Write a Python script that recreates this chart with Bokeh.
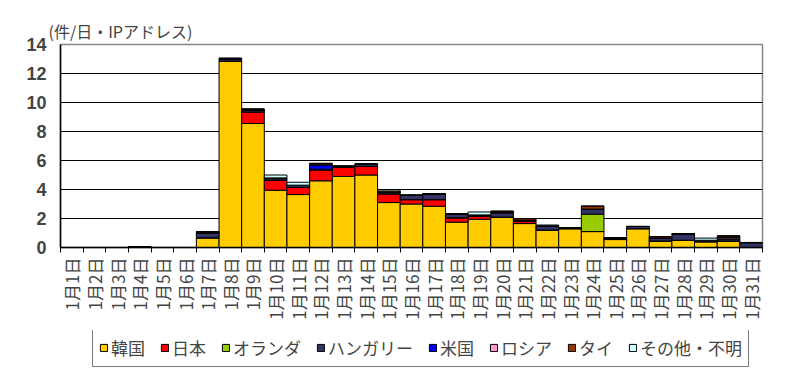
import math
from bokeh.plotting import figure
from bokeh.layouts import column
from bokeh.models import FixedTicker, Legend, LegendItem, ColumnDataSource
from bokeh.embed import file_html
from bokeh.resources import INLINE

days = ["1月1日", "1月2日", "1月3日", "1月4日", "1月5日", "1月6日", "1月7日", "1月8日",
        "1月9日", "1月10日", "1月11日", "1月12日", "1月13日", "1月14日", "1月15日", "1月16日",
        "1月17日", "1月18日", "1月19日", "1月20日", "1月21日", "1月22日", "1月23日", "1月24日",
        "1月25日", "1月26日", "1月27日", "1月28日", "1月29日", "1月30日", "1月31日"]

korea = [0, 0, 0, 0, 0, 0, 0.67, 12.85, 8.55, 3.95, 3.65, 4.6, 4.9, 5.0, 3.1, 3.0,
         2.85, 1.75, 1.95, 2.1, 1.65, 1.2, 1.3, 1.1, 0.55, 1.3, 0.45, 0.5, 0.4, 0.45, 0]
japan = [0, 0, 0, 0, 0, 0, 0, 0, 0.8, 0.7, 0.5, 0.75, 0.65, 0.6, 0.6, 0.3,
         0.45, 0.3, 0.2, 0, 0.15, 0, 0, 0, 0, 0, 0, 0, 0, 0, 0]
netherlands = [0, 0, 0, 0, 0, 0, 0, 0, 0, 0, 0, 0, 0, 0, 0, 0,
               0, 0, 0, 0, 0, 0, 0, 1.2, 0, 0, 0, 0, 0, 0, 0]
hungary = [0, 0, 0, 0.05, 0, 0, 0.33, 0.15, 0.1, 0.15, 0.15, 0.05, 0.05, 0.15, 0.1, 0.3,
           0.4, 0.25, 0.1, 0.3, 0.1, 0.3, 0.05, 0.35, 0.1, 0.15, 0.2, 0.45, 0.1, 0.15, 0.3]
usa = [0, 0, 0, 0, 0, 0, 0, 0, 0, 0, 0, 0.3, 0, 0, 0, 0,
       0, 0, 0, 0, 0, 0, 0, 0, 0, 0, 0, 0, 0, 0, 0]
russia = [0, 0, 0, 0, 0, 0, 0.05, 0, 0, 0, 0, 0, 0, 0, 0, 0,
          0, 0, 0, 0, 0, 0, 0, 0, 0, 0, 0, 0, 0, 0.1, 0]
thai = [0, 0, 0, 0, 0, 0, 0.05, 0.05, 0.1, 0, 0, 0.1, 0, 0, 0.1, 0,
        0, 0, 0, 0.1, 0.1, 0, 0, 0.2, 0, 0, 0.1, 0, 0, 0.1, 0]
other = [0, 0, 0, 0, 0, 0, 0, 0, 0, 0.2, 0.2, 0, 0, 0, 0.1, 0,
         0, 0, 0.2, 0, 0, 0.05, 0, 0, 0, 0, 0, 0, 0.15, 0, 0.05]

series_names = ["韓国", "日本", "オランダ", "ハンガリー", "米国", "ロシア", "タイ", "その他・不明"]
series_vals = [korea, japan, netherlands, hungary, usa, russia, thai, other]
colors = ["#FFCC00", "#FF0000", "#99CC00", "#333366", "#0000FF", "#FF99CC", "#993300", "#CCFFFF"]
y_ticks = [0, 2, 4, 6, 8, 10, 12, 14]

xs = list(range(1, len(days) + 1))
keys = [f"s{i}" for i in range(len(series_vals))]
data = {"x": xs}
for k, v in zip(keys, series_vals):
    data[k] = v
source = ColumnDataSource(data)

JP = "Noto Sans CJK JP"

p = figure(width=784, height=330, output_backend="svg", toolbar_location=None,
           x_range=(0.5, len(days) + 0.5), y_range=(0, 14),
           min_border_left=60, min_border_right=22, min_border_top=44, min_border_bottom=83)
p.title.text = "(件/日・IPアドレス)"
p.title.text_font = JP
p.title.text_font_size = "16px"
p.title.text_font_style = "normal"
p.title.offset = -12
p.title.standoff = 4

renderers = p.vbar_stack(keys, x="x", width=1.0, source=source, color=colors,
                         line_color="black", line_width=1)

p.outline_line_color = "#888888"
p.outline_line_width = 1.5
p.background_fill_color = "white"
p.border_fill_color = "white"

p.xgrid.grid_line_color = None
p.ygrid.grid_line_color = "black"
p.ygrid.grid_line_width = 1.2
p.ygrid.ticker = FixedTicker(ticks=y_ticks)

p.yaxis.ticker = FixedTicker(ticks=y_ticks)
p.yaxis.major_tick_out = 0
p.yaxis.major_tick_in = 0
p.yaxis.minor_tick_out = 0
p.yaxis.minor_tick_in = 0
p.yaxis.axis_line_color = "black"
p.yaxis.axis_line_width = 1.5
p.yaxis.major_label_text_font = "Liberation Sans"
p.yaxis.major_label_text_font_size = "18px"
p.yaxis.major_label_text_font_style = "bold"
p.yaxis.major_label_standoff = 14

p.xaxis.ticker = FixedTicker(ticks=xs, minor_ticks=[x - 0.5 for x in xs] + [len(xs) + 0.5])
p.xaxis.major_label_overrides = {x: d for x, d in zip(xs, days)}
p.xaxis.major_label_orientation = math.pi / 2
p.xaxis.major_label_text_font = JP
p.xaxis.major_label_text_font_size = "17px"
p.xaxis.major_label_standoff = 5
p.xaxis.major_tick_out = 0
p.xaxis.major_tick_in = 0
p.xaxis.minor_tick_out = 5
p.xaxis.minor_tick_in = 0
p.xaxis.minor_tick_line_color = "black"
p.xaxis.axis_line_color = "black"
p.xaxis.axis_line_width = 1.5

# legend panel as a separate, axis-less figure below the chart
lp = figure(width=784, height=42, output_backend="svg", toolbar_location=None,
            x_range=(1000, 1001), y_range=(1000, 1001),
            min_border_left=0, min_border_right=0, min_border_top=0, min_border_bottom=0,
            x_axis_location=None, y_axis_location=None)
lp.grid.visible = False
lp.outline_line_color = None
lp.background_fill_color = "white"
lp.border_fill_color = "white"
lrs = lp.vbar_stack(keys, x="x", width=1.0, source=source, color=colors,
                    line_color="black", line_width=1)

items = [LegendItem(label=n, renderers=[r]) for n, r in zip(series_names, lrs)]
legend = Legend(items=items, orientation="horizontal", location=(32, 5),
                glyph_width=9, glyph_height=9, label_standoff=3, spacing=15,
                padding=6, margin=0,
                label_text_font=JP, label_text_font_size="17px",
                border_line_color="black", border_line_width=1.5,
                background_fill_color="white", background_fill_alpha=1.0)
lp.add_layout(legend, "center")

layout = column(p, lp, spacing=0)
open("out.html", "w").write(file_html(layout, INLINE))
